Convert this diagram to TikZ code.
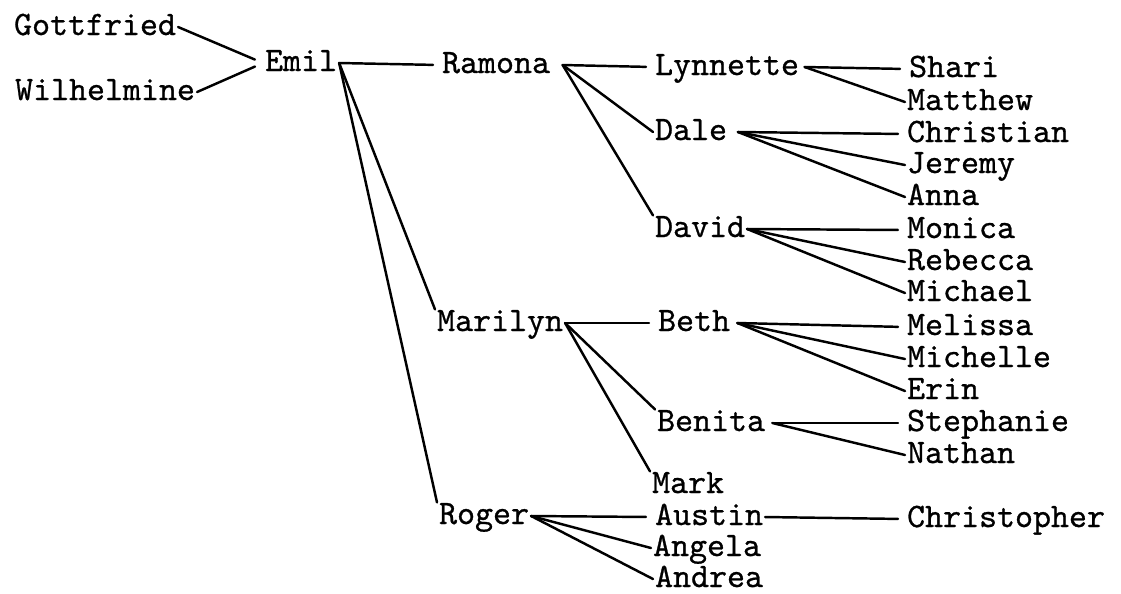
\documentclass[tikz,border=0pt]{standalone}
\usepackage{fontspec}
\usepackage{tikz}
\newfontfamily\typewriter{lmmono10-regular.otf}[FakeBold=0.8]
\tikzset{ person/.style = {font=\typewriter\fontsize{19.5pt}{24pt}\selectfont, anchor=base west, inner xsep=1pt, inner ysep=0pt, text height=12.1pt, text depth=3pt} }
\tikzset{ kin/.style = {line width=1.4pt, line cap=round} }
\tikzset{ flat/.style = {kin, shorten >=4pt} }

\begin{document}
\begin{tikzpicture}[x=0.02cm, y=-0.02cm]
    \useasboundingbox (0,0) rectangle (1121,593);
    % parents
    \node[person] (Gottfried) at (12,35) {Gottfried};
    \node[person] (Wilhelmine) at (13,100) {Wilhelmine};
    \node[person] (Emil) at (263,71) {Emil};
    % children
    \node[person] (Ramona) at (440,73) {Ramona};
    \node[person] (Marilyn) at (435,331) {Marilyn};
    \node[person] (Roger) at (437,524) {Roger};
    % grandchildren
    \node[person] (Lynnette) at (653,75) {Lynnette};
    \node[person] (Dale) at (653,140) {Dale};
    \node[person] (David) at (653,237) {David};
    \node[person] (Beth) at (656,331) {Beth};
    \node[person] (Benita) at (655,431) {Benita};
    \node[person] (Mark) at (650,493) {Mark};
    \node[person] (Austin) at (653,525) {Austin};
    \node[person] (Angela) at (651,556) {Angela};
    \node[person] (Andrea) at (653,587) {Andrea};
    % great-grandchildren
    \node[person] (Shari) at (907,77) {Shari};
    \node[person] (Matthew) at (905,110) {Matthew};
    \node[person] (Christian) at (905,142) {Christian};
    \node[person] (Jeremy) at (905,173) {Jeremy};
    \node[person] (Anna) at (905,205) {Anna};
    \node[person] (Monica) at (905,238) {Monica};
    \node[person] (Rebecca) at (905,270) {Rebecca};
    \node[person] (Michael) at (905,301) {Michael};
    \node[person] (Melissa) at (905,335) {Melissa};
    \node[person] (Michelle) at (905,367) {Michelle};
    \node[person] (Erin) at (905,399) {Erin};
    \node[person] (Stephanie) at (905,431) {Stephanie};
    \node[person] (Nathan) at (905,463) {Nathan};
    \node[person] (Christopher) at (905,527) {Christopher};

    \draw[kin, shorten >=5pt] (Gottfried.east) -- (Emil.west);
    \draw[kin, shorten >=5pt] (Wilhelmine.east) -- (Emil.west);
    \draw[flat] (Emil.east) -- (Ramona.west);
    \draw[kin] (Emil.east) -- (Marilyn.north west);
    \draw[kin] (Emil.east) -- (Roger.north west);

    \draw[flat] ([xshift=6pt]Ramona.east) -- (Lynnette.west);
    \draw[kin] ([xshift=6pt]Ramona.east) -- (Dale.west);
    \draw[kin] ([xshift=6pt]Ramona.east) -- (David.north west);
    \draw[flat] (Marilyn.east) -- (Beth.west);
    \draw[kin] (Marilyn.east) -- (Benita.north west);
    \draw[kin] (Marilyn.east) -- (Mark.north west);
    \draw[flat] (Roger.east) -- (Austin.west);
    \draw[kin] (Roger.east) -- (Angela.west);
    \draw[kin] (Roger.east) -- (Andrea.west);

    \draw[flat] ([xshift=2pt]Lynnette.east) -- (Shari.west);
    \draw[kin] ([xshift=2pt]Lynnette.east) -- (Matthew.west);
    \draw[flat] ([xshift=5pt]Dale.east) -- (Christian.west);
    \draw[kin] ([xshift=5pt]Dale.east) -- (Jeremy.west);
    \draw[kin] ([xshift=5pt]Dale.east) -- (Anna.west);
    \draw[flat] (David.east) -- (Monica.west);
    \draw[kin] (David.east) -- (Rebecca.west);
    \draw[kin] (David.east) -- (Michael.west);
    \draw[flat] ([xshift=3pt]Beth.east) -- (Melissa.west);
    \draw[kin] ([xshift=3pt]Beth.east) -- (Michelle.west);
    \draw[kin] ([xshift=3pt]Beth.east) -- (Erin.west);
    \draw[flat] ([xshift=3pt]Benita.east) -- (Stephanie.west);
    \draw[kin] ([xshift=3pt]Benita.east) -- (Nathan.west);
    \draw[flat] (Austin.east) -- (Christopher.west);
\end{tikzpicture}
\end{document}
